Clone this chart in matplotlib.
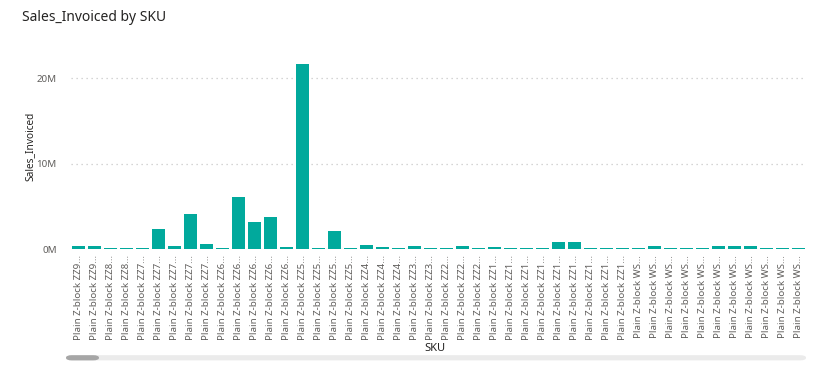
import matplotlib
matplotlib.use("Agg")
import matplotlib.pyplot as plt
from matplotlib.patches import FancyBboxPatch
from matplotlib.ticker import FuncFormatter

plt.rcParams['font.family'] = ['Noto Sans', 'DejaVu Sans']

# SKU groups as shown on the axis (labels are truncated in the visual)
sku_codes = (["ZZ9"] * 2 + ["ZZ8"] * 2 + ["ZZ7"] * 5 + ["ZZ6"] * 5 + ["ZZ5"] * 4 +
             ["ZZ4"] * 3 + ["ZZ3"] * 2 + ["ZZ2"] * 3 + ["ZZ1"] * 9 + ["WS"] * 11)
sku_labels = ["Plain Z-block " + c + "..." for c in sku_codes]

# Sales_Invoiced in millions
sales_invoiced_m = [0.39, 0.39, 0.10, 0.10, 0.10, 2.38, 0.35, 4.17, 0.58, 0.10,
                    6.12, 3.20, 3.78, 0.27, 21.6, 0.10, 2.18, 0.10, 0.47, 0.27,
                    0.10, 0.43, 0.10, 0.10, 0.35, 0.20, 0.27, 0.10, 0.10, 0.10,
                    0.82, 0.82, 0.10, 0.10, 0.10, 0.10, 0.39, 0.10, 0.10, 0.10,
                    0.39, 0.39, 0.35, 0.10, 0.10, 0.10]

bar_color = "#01A99C"
grey_text = "#605E5C"

fig = plt.figure(figsize=(8.25, 3.7), dpi=100)
ax = fig.add_axes([0.0855, 0.3262, 0.892, 0.525])

x = range(len(sales_invoiced_m))
ax.bar(x, [v * 1e6 for v in sales_invoiced_m], width=0.77, color=bar_color, zorder=3)

ax.set_xlim(-0.5, len(sales_invoiced_m) - 0.5)
ax.set_ylim(0, 22.7e6)
ax.set_yticks([0, 10e6, 20e6])
ax.yaxis.set_major_formatter(FuncFormatter(lambda v, p: f"{v / 1e6:.0f}M"))
ax.grid(axis='y', linestyle=(0, (1, 3)), color="#C8C8C8", linewidth=0.9, zorder=0)

ax.set_xticks(list(x))
ax.set_xticklabels(sku_labels, rotation=90, fontsize=7.0, color=grey_text)
ax.tick_params(axis='y', labelsize=7, colors=grey_text, length=0, pad=10)
ax.tick_params(axis='x', length=0, pad=4)

for s in ax.spines.values():
    s.set_visible(False)

ax.set_ylabel("Sales_Invoiced", fontsize=7.3, color="#252423")
ax.yaxis.set_label_coords(-0.047, 0.53)
fig.text(0.527, 0.058, "SKU", fontsize=8, color="#252423", ha='center', va='center')

fig.text(0.027, 0.952, "Sales_Invoiced by SKU", fontsize=10, color="#252423",
         ha='left', va='center')

# scrollbar under the axis
fig.patches.append(FancyBboxPatch((0.08, 0.026), 0.897, 0.014,
                                  boxstyle="round,pad=0,rounding_size=0.007",
                                  transform=fig.transFigure, facecolor="#EBEBEB",
                                  edgecolor="none"))
fig.patches.append(FancyBboxPatch((0.08, 0.026), 0.04, 0.014,
                                  boxstyle="round,pad=0,rounding_size=0.007",
                                  transform=fig.transFigure, facecolor="#A6A6A6",
                                  edgecolor="none"))

fig.savefig("out.png", dpi=100, facecolor="white")
